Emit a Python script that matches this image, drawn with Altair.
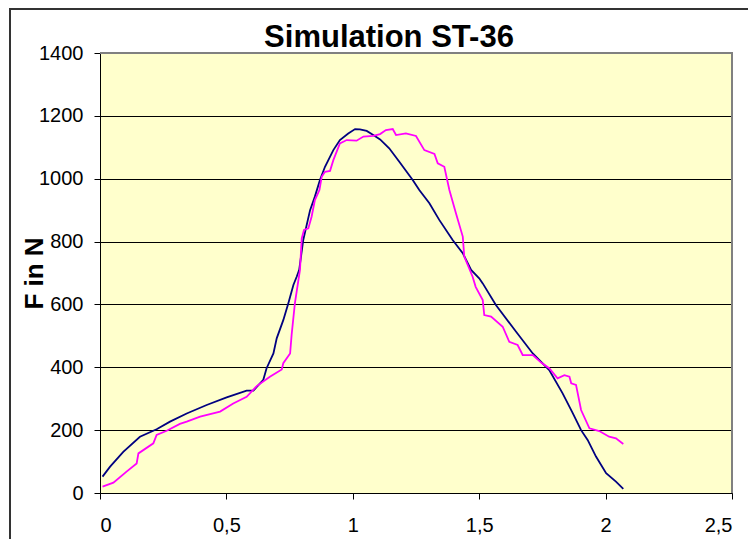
import altair as alt
import pandas as pd

navy_x = [0.01, 0.04, 0.092, 0.158, 0.224, 0.277, 0.343, 0.422, 0.501, 0.58, 0.607, 0.646, 0.659, 0.686,
          0.699, 0.725, 0.745, 0.765, 0.778, 0.788, 0.804, 0.831, 0.85, 0.87, 0.89, 0.923, 0.949, 0.982,
          1.009, 1.028, 1.055, 1.081, 1.108, 1.144, 1.184, 1.237, 1.263, 1.303, 1.342, 1.395, 1.435,
          1.468, 1.5, 1.514, 1.566, 1.646, 1.712, 1.777, 1.83, 1.87, 1.903, 1.929, 1.962, 2.002, 2.041, 2.07]
navy_y = [52, 84, 131, 179, 203, 227, 253, 280, 304, 326, 326, 360, 397, 444,
          492, 550, 604, 662, 688, 710, 805, 900, 943, 996, 1038, 1091, 1123, 1144,
          1158, 1157, 1152, 1139, 1125, 1097, 1054, 996, 964, 922, 869, 805, 763,
          710, 683, 667, 598, 513, 444, 391, 317, 254, 200, 169, 116, 63, 36, 13]

mag_x = [0.01, 0.053, 0.105, 0.145, 0.152, 0.211, 0.224, 0.264, 0.316, 0.343, 0.396, 0.475, 0.527, 0.58,
         0.62, 0.672, 0.719, 0.725, 0.752, 0.758, 0.771, 0.791, 0.798, 0.807, 0.824, 0.837, 0.85, 0.868,
         0.877, 0.89, 0.91, 0.923, 0.949, 0.976, 1.015, 1.042, 1.081, 1.108, 1.131, 1.158, 1.171, 1.21,
         1.25, 1.283, 1.323, 1.336, 1.362, 1.382, 1.408, 1.435, 1.441, 1.474, 1.486, 1.514, 1.52, 1.547,
         1.593, 1.619, 1.652, 1.672, 1.712, 1.745, 1.777, 1.81, 1.837, 1.857, 1.864, 1.883, 1.903, 1.936,
         1.975, 2.014, 2.041, 2.07]
mag_y = [20, 33, 68, 94, 126, 158, 185, 198, 220, 227, 243, 259, 285, 306,
         340, 370, 393, 413, 444, 503, 604, 710, 810, 837, 842, 879, 932, 964,
         1006, 1022, 1025, 1059, 1112, 1123, 1121, 1134, 1136, 1142, 1155, 1158, 1139, 1144,
         1136, 1091, 1079, 1049, 1038, 964, 890, 816, 752, 688, 656, 614, 566, 561,
         529, 481, 471, 439, 439, 415, 397, 365, 375, 370, 349, 344, 264, 206,
         197, 179, 174, 156]

x_ticks = [0, 0.5, 1, 1.5, 2, 2.5]
y_ticks = [0, 200, 400, 600, 800, 1000, 1200, 1400]

series_names = ["Serie 1", "Serie 2"]
series_colors = ["#000080", "#FF00FF"]

rows = []
for i, (xs, ys) in enumerate([(navy_x, navy_y), (mag_x, mag_y)]):
    for j, (a, b) in enumerate(zip(xs, ys)):
        rows.append({"x": a, "F": b, "series": series_names[i], "i": j})
df = pd.DataFrame(rows)

FONT = "Liberation Sans"

lines = alt.Chart(df).mark_line(strokeWidth=1.8).encode(
    x=alt.X("x:Q", scale=alt.Scale(domain=[0, 2.5], nice=False),
            axis=alt.Axis(values=x_ticks, title=None, grid=False,
                          labelExpr="replace(format(datum.value, '~g'), '.', ',')",
                          labelFontSize=20, labelFont=FONT, labelColor="black",
                          labelPadding=16, tickSize=6, tickColor="black",
                          domainColor="black", domainWidth=1)),
    y=alt.Y("F:Q", scale=alt.Scale(domain=[0, 1400], nice=False),
            axis=alt.Axis(values=y_ticks, format="d", title="F in N", grid=True, gridColor="black",
                          gridWidth=1, labelFontSize=20, labelFont=FONT, labelColor="black",
                          labelPadding=11, tickSize=6, tickColor="black",
                          domainColor="black", domainWidth=1,
                          titleFont=FONT, titleFontSize=26, titleFontWeight="bold",
                          titleColor="black", titleBaseline="alphabetic",
                          titleX=-58, titleY=220, titleAngle=270)),
    color=alt.Color("series:N", scale=alt.Scale(domain=series_names, range=series_colors), legend=None),
    order="i:Q",
)

right_edge = alt.Chart(df).mark_rule(color="#808080", strokeWidth=2).encode(
    x=alt.value(632), y=alt.value(0), y2=alt.value(440))
top_edge = alt.Chart(df).mark_rule(color="#808080", strokeWidth=2).encode(
    x=alt.value(0), x2=alt.value(633), y=alt.value(0))
frame_left = alt.Chart(df).mark_rule(color="#333333", strokeWidth=2).encode(
    x=alt.value(-90), y=alt.value(-44), y2=alt.value(520))
frame_top = alt.Chart(df).mark_rule(color="#333333", strokeWidth=2).encode(
    x=alt.value(-91), x2=alt.value(660), y=alt.value(-44))

chart = alt.layer(lines, right_edge, top_edge, frame_left, frame_top).properties(
    width=632, height=440,
    autosize=alt.AutoSizeParams(type="none"),
    padding={"left": 92, "top": 45, "right": 16, "bottom": 46},
    title=alt.TitleParams("Simulation ST-36", font=FONT, fontSize=31, fontWeight="bold",
                          color="black", baseline="alphabetic", offset=6, dx=-27, dy=76),
    background="white",
).configure_view(fill="#FFFFCC", stroke=None)

chart.save("out.html", embed_options={"renderer": "svg", "actions": False})
